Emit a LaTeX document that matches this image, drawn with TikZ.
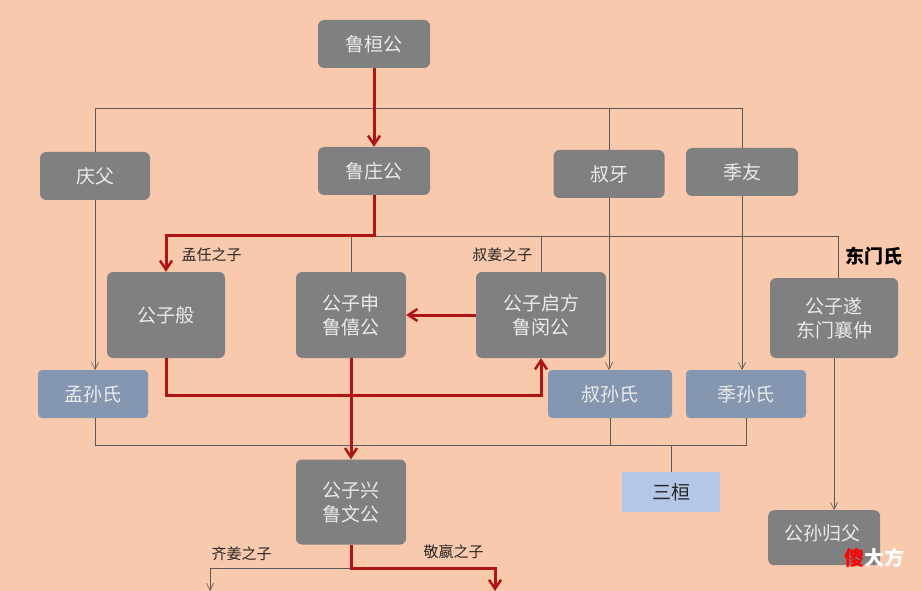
\documentclass[tikz,border=0pt]{standalone}
\usepackage{fontspec}
\setmainfont{Noto Sans CJK SC}
\usetikzlibrary{arrows.meta}
\definecolor{bg}{HTML}{F8C9AD}
\definecolor{gn}{HTML}{808080}
\definecolor{bn}{HTML}{8496B0}
\definecolor{lb}{HTML}{B4C7E7}
\definecolor{rd}{HTML}{B01515}
\begin{document}
\begin{tikzpicture}[x=1pt,y=-1pt,
 box/.style={draw=none,fill=gn,rounded corners=6pt,text=white!92!black,font=\fontsize{19}{24}\selectfont,align=center,inner sep=0pt},
 gbox/.style={box,minimum width=112pt,minimum height=48pt},
 bbox/.style={box,fill=bn,rounded corners=4pt,minimum height=48pt},
 thin/.style={draw=black!65,line width=0.6pt},
 tarr/.style={thin,-{Straight Barb[length=7pt,width=7pt]}},
 red/.style={draw=rd,line width=3pt},
 rarr/.style={red,-{Straight Barb[length=9pt,width=12pt,line width=2.5pt]}},
 lab/.style={font=\fontsize{15}{17}\selectfont,text=black!85}]
\fill[bg] (0,0) rectangle (922,591);
\useasboundingbox (0,0) rectangle (922,591);
\node[gbox] (hg) at (374,44) {鲁桓公};
\node[gbox,minimum width=110pt] (qf) at (95,176) {庆父};
\node[gbox] (zg) at (374,171) {鲁庄公};
\node[gbox,minimum width=111pt] (sy) at (609,174) {叔牙};
\node[gbox] (jy) at (742,172) {季友};
\node[box,minimum width=118pt,minimum height=86pt] (gzb) at (166,315) {公子般};
\node[box,minimum width=110pt,minimum height=86pt] (gzs) at (351,315) {公子申\\鲁僖公};
\node[box,minimum width=130pt,minimum height=86pt] (gzq) at (541,315) {公子启方\\鲁闵公};
\node[box,minimum width=128pt,minimum height=80pt] (gzsui) at (834,318) {公子遂\\东门襄仲};
\node[bbox,minimum width=110pt] (ms) at (93,394) {孟孙氏};
\node[bbox,minimum width=124pt] (ss) at (610,394) {叔孙氏};
\node[bbox,minimum width=120pt] (js) at (746,394) {季孙氏};
\node[box,fill=lb,rounded corners=0pt,text=black!85,minimum width=98pt,minimum height=40pt] (sh) at (671,492) {三桓};
\node[box,minimum width=110pt,minimum height=85pt] (wg) at (351,502) {公子兴\\鲁文公};
\node[box,minimum width=112pt,minimum height=55pt,anchor=north west] (gs) at (768,510) {};
\node[text=white!92!black,font=\fontsize{19}{24}\selectfont,anchor=west,inner sep=0pt] (gst) at (784,533) {公孙归父};
% top branch
\coordinate (t1) at (95,108); \coordinate (t2) at (742,108);
\draw[thin] (qf.north) -- (t1) -- (t2) -- (jy.north);
\draw[thin] (609,108) -- (sy.north);
\draw[rarr] (hg.south) -- (zg.north);
% second branch
\draw[thin] (374,236) -- (838,236) -- (838,278);
\draw[thin] (351,236) -- (gzs.north);
\draw[thin] (541,236) -- (gzq.north);
\draw[rarr] (zg.south) -- (374,236) -- (166,236) -- (gzb.north);
\node[lab,anchor=west] (l1) at (178,255) {孟任之子};
\node[lab,anchor=east] (l2) at (536,255) {叔姜之子};
\node[font=\fontsize{19}{21}\selectfont\bfseries,anchor=west] (dm) at (842,256) {东门氏};
% clans
\draw[tarr] (qf.south) -- (95,370);
\draw[tarr] (sy.south) -- (609,370);
\draw[tarr] (jy.south) -- (742,370);
\draw[thin] (95,418) -- (95,445) -- (746,445) -- (746,418);
\draw[thin] (610,418) -- (610,445);
\draw[thin] (671,445) -- (sh.north);
% red paths
\draw[rarr] (gzb.south) -- (166,395) -- (541,395) -- (gzq.south);
\draw[rarr] (gzq.west) -- (gzs.east);
\draw[rarr] (gzs.south) -- (wg.north);
\draw[tarr] (gzsui.south) -- (834,510);
% bottom
\draw[tarr] (351,568) -- (210,568) -- (210,591);
\draw[rarr] (wg.south) -- (351,568) -- (495,568) -- (495,591);
\node[lab,anchor=west] (l3) at (208,554) {齐姜之子};
\node[lab,anchor=west] (l4) at (420,552) {敬嬴之子};
\node[font=\fontsize{20}{22}\selectfont\bfseries,text=white,anchor=east] (wm) at (908,558) {\textcolor{red}{傻}大方};
\end{tikzpicture}
\end{document}
